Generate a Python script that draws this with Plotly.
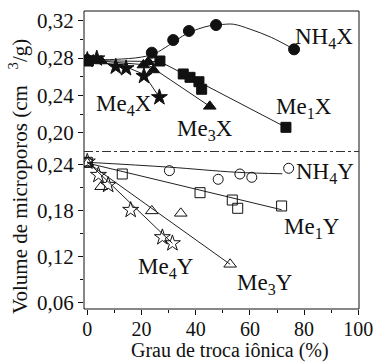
import plotly.graph_objects as go

# ---------------- data ----------------
# Top panel (zeolite X), filled markers
nh4x_x = [0.0, 23.8, 31.7, 37.5, 47.5, 76.3]
nh4x_y = [0.278, 0.2857, 0.2993, 0.309, 0.3154, 0.2893]
nh4x_fit_x = [0, 10, 20, 25, 30, 37, 45, 50, 54, 60, 68, 76.3]
nh4x_fit_y = [0.278, 0.2785, 0.281, 0.285, 0.2935, 0.3065, 0.3145, 0.316, 0.3162, 0.311, 0.302, 0.2893]

me1x_x = [0.4, 26.8, 35.4, 37.9, 41.2, 42.2, 73.3]
me1x_y = [0.2768, 0.2768, 0.2629, 0.2593, 0.2546, 0.2465, 0.2057]
me1x_fit_x = [0, 26.8, 73.3]
me1x_fit_y = [0.2772, 0.2762, 0.2057]

me3x_x = [2.2, 5.1, 20.7, 22.5, 24.4, 45.2]
me3x_y = [0.2779, 0.2768, 0.2725, 0.276, 0.2672, 0.2282]
me3x_fit_x = [0, 22.5, 45.2]
me3x_fit_y = [0.2778, 0.2725, 0.2282]

me4x_x = [0.0, 3.5, 10.5, 14.3, 20.9, 26.6]
me4x_y = [0.278, 0.2795, 0.2707, 0.269, 0.2607, 0.2379]
me4x_fit_x = [0, 10.5, 14.3, 20.9, 26.6]
me4x_fit_y = [0.278, 0.2725, 0.2705, 0.2625, 0.2379]

# Bottom panel (zeolite Y), open markers
nh4y_x = [0.0, 30.3, 48.3, 56.3, 60.7, 74.3]
nh4y_y = [0.2435, 0.2326, 0.2213, 0.2282, 0.2239, 0.2357]
nh4y_fit_x = [0, 30, 55, 72]
nh4y_fit_y = [0.2435, 0.2372, 0.2305, 0.2285]

me1y_x = [0.0, 12.9, 41.6, 53.5, 55.5, 71.7]
me1y_y = [0.2435, 0.2282, 0.2038, 0.1942, 0.1834, 0.1864]
me1y_fit_x = [0, 71.7]
me1y_fit_y = [0.2425, 0.1815]

me3y_x = [0.0, 5.1, 23.8, 34.5, 52.7]
me3y_y = [0.2422, 0.2116, 0.18, 0.1768, 0.1102]
me3y_fit_x = [0, 52.7]
me3y_fit_y = [0.2435, 0.1102]

me4y_x = [0.0, 4.1, 7.7, 16.0, 27.7, 31.4]
me4y_y = [0.2443, 0.2269, 0.2139, 0.1812, 0.1455, 0.1376]
me4y_fit_x = [0, 31.4]
me4y_fit_y = [0.2443, 0.1376]

labels_top = [("NH<sub>4</sub>X", 87.5, 0.3015), ("Me<sub>1</sub>X", 80.0, 0.2265),
              ("Me<sub>4</sub>X", 13.6, 0.2295), ("Me<sub>3</sub>X", 43.4, 0.2025)]
labels_bot = [("NH<sub>4</sub>Y", 87.8, 0.2295), ("Me<sub>1</sub>Y", 83.0, 0.1575),
              ("Me<sub>4</sub>Y", 29.0, 0.105), ("Me<sub>3</sub>Y", 65.5, 0.085)]

x_ticks = [0, 20, 40, 60, 80, 100]
top_ticks = [0.20, 0.24, 0.28, 0.32]
bot_ticks = [0.06, 0.12, 0.18, 0.24]

# ---------------- figure ----------------
FONT = "Liberation Serif"
SPLIT = 0.5285
fig = go.Figure()

def add_fit(x, y, ya, shape="linear"):
    fig.add_trace(go.Scatter(x=x, y=y, mode="lines", yaxis=ya, xaxis="x",
                             line=dict(color="#222", width=1, shape=shape,
                                       smoothing=1.0 if shape == "spline" else None),
                             hoverinfo="skip", showlegend=False))

def add_pts(x, y, ya, symbol, size):
    fig.add_trace(go.Scatter(x=x, y=y, mode="markers", yaxis=ya, xaxis="x",
                             marker=dict(symbol=symbol, size=size, color="#111",
                                         line=dict(color="#111", width=1)),
                             showlegend=False))

add_fit(nh4x_fit_x, nh4x_fit_y, "y2", "spline")
add_fit(me1x_fit_x, me1x_fit_y, "y2")
add_fit(me3x_fit_x, me3x_fit_y, "y2")
add_fit(me4x_fit_x, me4x_fit_y, "y2")
add_pts(nh4x_x, nh4x_y, "y2", "circle", 11)
add_pts(me1x_x, me1x_y, "y2", "square", 10)
add_pts(me3x_x, me3x_y, "y2", "triangle-up", 11)
add_pts(me4x_x, me4x_y, "y2", "star", 12)

add_fit(nh4y_fit_x, nh4y_fit_y, "y", "spline")
add_fit(me1y_fit_x, me1y_fit_y, "y")
add_fit(me3y_fit_x, me3y_fit_y, "y")
add_fit(me4y_fit_x, me4y_fit_y, "y")
add_pts(nh4y_x, nh4y_y, "y", "circle-open", 10)
add_pts(me1y_x, me1y_y, "y", "square-open", 10)
add_pts(me3y_x, me3y_y, "y", "triangle-up-open", 11)
add_pts(me4y_x, me4y_y, "y", "star-open", 12)

tickfont = dict(family=FONT, size=21, color="#111")
xtickfont = dict(family=FONT, size=20, color="#111")
common_y = dict(showgrid=False, zeroline=False, showline=False, ticks="outside",
                ticklen=5, tickcolor="#111", tickformat=".2f", tickfont=tickfont,
                anchor="x", automargin=False)

fig.update_layout(
    width=375, height=363,
    margin=dict(l=84, r=16, t=11, b=54),
    paper_bgcolor="white", plot_bgcolor="white",
    separators=", ",
    font=dict(family=FONT, color="#111"),
    xaxis=dict(range=[-1.22, 100.26], tickvals=x_ticks, showgrid=False, zeroline=False,
               showline=False, ticks="outside", ticklen=5, tickcolor="#111",
               tickfont=xtickfont, anchor="y", automargin=False, ticklabelstandoff=-3,
               minor=dict(dtick=10, ticks="outside", ticklen=3, tickcolor="#111")),
    yaxis=dict(domain=[0, SPLIT], range=[0.0518, 0.2576], tickvals=bot_ticks,
               minor=dict(tickvals=[0.09, 0.15, 0.21], ticks="outside", ticklen=3, tickcolor="#111"),
               **common_y),
    yaxis2=dict(domain=[SPLIT, 1], range=[0.1798, 0.3304], tickvals=top_ticks,
                minor=dict(tickvals=[0.22, 0.26, 0.30], ticks="outside", ticklen=3, tickcolor="#111"),
                **common_y),
    yaxis3=dict(overlaying="y", side="right", range=[0.0518, 0.2576], showgrid=False,
                zeroline=False, showticklabels=False, ticks="inside", ticklen=4, automargin=False,
                tickcolor="#555", tickvals=[0.06, 0.09, 0.12, 0.15, 0.18, 0.21, 0.24], anchor="x"),
    yaxis4=dict(overlaying="y2", side="right", range=[0.1798, 0.3304], showgrid=False,
                zeroline=False, showticklabels=False, ticks="inside", ticklen=4, automargin=False,
                tickcolor="#555", tickvals=[0.20, 0.22, 0.24, 0.26, 0.28, 0.30, 0.32], anchor="x"),
)

# frame and dash-dot divider
fig.add_shape(type="rect", xref="paper", yref="paper", x0=0, x1=1, y0=0, y1=1,
              line=dict(color="#111", width=1))
fig.add_shape(type="line", xref="paper", yref="paper", x0=0, x1=1, y0=SPLIT, y1=SPLIT,
              line=dict(color="#333", width=1, dash="dashdot"))

for txt, x, y in labels_top:
    fig.add_annotation(text=txt, x=x, y=y, xref="x", yref="y2", showarrow=False,
                       font=dict(family=FONT, size=23, color="#111"))
for txt, x, y in labels_bot:
    fig.add_annotation(text=txt, x=x, y=y, xref="x", yref="y", showarrow=False,
                       font=dict(family=FONT, size=23, color="#111"))

# axis titles
fig.add_annotation(text="Grau de troca iônica (%)", xref="paper", yref="paper",
                   x=(230 - 84) / 275, y=-(350 - 309) / 298, xanchor="center", yanchor="middle",
                   showarrow=False, borderpad=0,
                   font=dict(family=FONT, size=20, color="#111"))
fig.add_annotation(text="Volume de microporos (cm\u00a0\u00a0\u00a0<sup>3</sup>/g)",
                   textangle=-90, xref="paper", yref="paper",
                   x=(18 - 84) / 275, y=(309 - 177) / 298, xanchor="center", yanchor="middle",
                   showarrow=False, font=dict(family=FONT, size=21, color="#111"))

fig.write_html("out.html")
